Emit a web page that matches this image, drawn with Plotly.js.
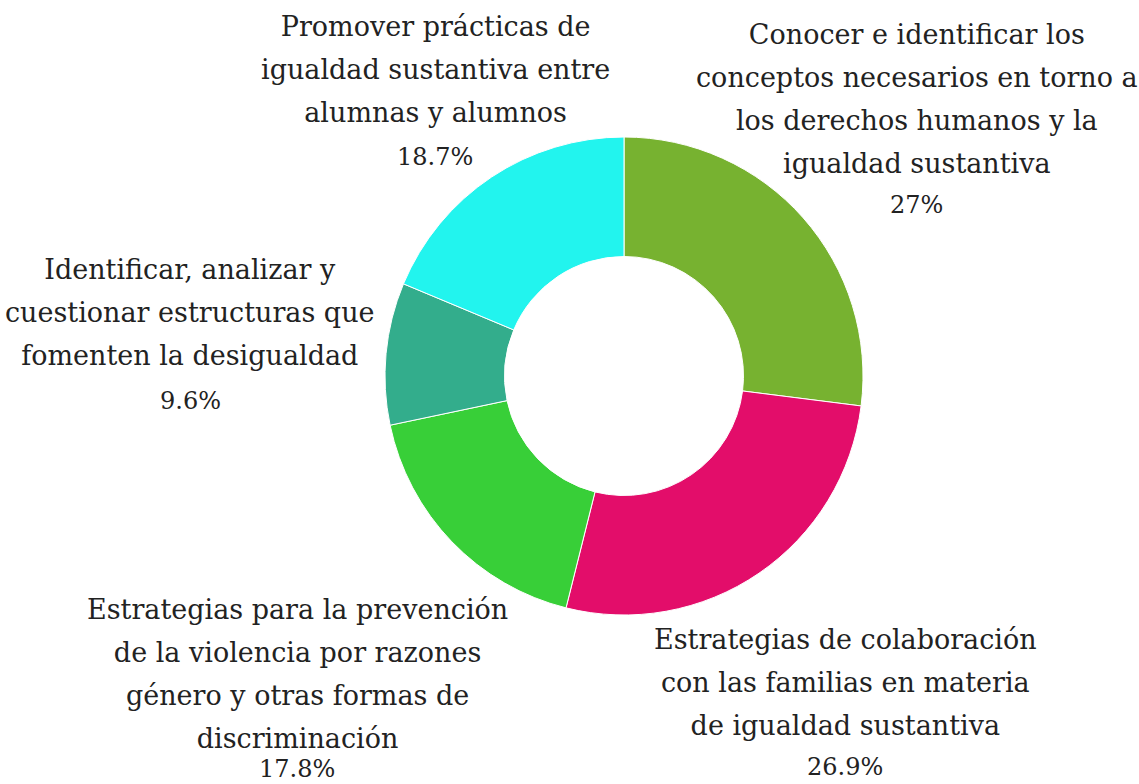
<!DOCTYPE html>
<html>
<head>
<meta charset="utf-8">
<script src="https://cdn.plot.ly/plotly-3.0.1.min.js"></script>
<style>html,body{margin:0;padding:0;background:#fff;}#chart{width:1139px;height:784px;}</style>
</head>
<body>
<div id="chart"></div>
<script>
// Slices, clockwise from 12 o'clock
const labelLines = [
  ["Conocer e identificar los", "conceptos necesarios en torno a", "los derechos humanos y la", "igualdad sustantiva"],
  ["Estrategias de colaboración", "con las familias en materia", "de igualdad sustantiva"],
  ["Estrategias para la prevención", "de la violencia por razones", "género y otras formas de", "discriminación"],
  ["Identificar, analizar y", "cuestionar estructuras que", "fomenten la desigualdad"],
  ["Promover prácticas de", "igualdad sustantiva entre", "alumnas y alumnos"]
];
const values = [27, 26.9, 17.8, 9.6, 18.7];
const colors = ["#77b230", "#e30d6a", "#38cf38", "#33ad8c", "#22f4ee"];

// Label placement (pixel centres in the 1139x784 figure): [centre x, first-line y, percent-line y]
const W = 1139, H = 784;
const labelPos = [
  [917, 35, 205],
  [845, 640, 767],
  [297, 610, 769],
  [190, 270, 401],
  [435, 27, 157]
];

const glyphSize = 27;   // visible glyph size
const pctSize = 24;
const lineBox = 33;     // sets line spacing (1.3 * 33 ≈ 43px)
const span = s => '<span style="font-size:' + glyphSize + 'px">' + s + '</span>';

const labels = labelLines.map(l => l.join(" "));

const trace = {
  type: "pie",
  values: values,
  labels: labels,
  textinfo: "none",
  hole: 0.5,
  sort: false,
  direction: "clockwise",
  rotation: 0,
  marker: {colors: colors, line: {color: "#ffffff", width: 1}},
  domain: {x: [385 / W, 863 / W], y: [1 - 615 / H, 1 - 137 / H]},
  hoverinfo: "label+percent"
};

const annotations = [];
labelLines.forEach((lines, i) => {
  const p = labelPos[i];
  const midY = (p[1] + p[1] + (lines.length - 1) * 1.3 * lineBox) / 2;
  annotations.push({
    xref: "paper", yref: "paper",
    x: p[0] / W, y: 1 - midY / H,
    xanchor: "center", yanchor: "middle", align: "center",
    showarrow: false,
    text: lines.map(span).join("<br>"),
    font: {family: "DejaVu Serif", size: lineBox, color: "#222222"}
  });
  annotations.push({
    xref: "paper", yref: "paper",
    x: p[0] / W, y: 1 - p[2] / H,
    xanchor: "center", yanchor: "middle", align: "center",
    showarrow: false,
    text: values[i] + "%",
    font: {family: "DejaVu Serif", size: pctSize, color: "#222222"}
  });
});

const layout = {
  width: W,
  height: H,
  margin: {l: 0, r: 0, t: 0, b: 0},
  showlegend: false,
  paper_bgcolor: "#ffffff",
  font: {family: "DejaVu Serif", color: "#222222"},
  annotations: annotations
};

Plotly.newPlot("chart", [trace], layout, {displayModeBar: false, staticPlot: true});
</script>
</body>
</html>
